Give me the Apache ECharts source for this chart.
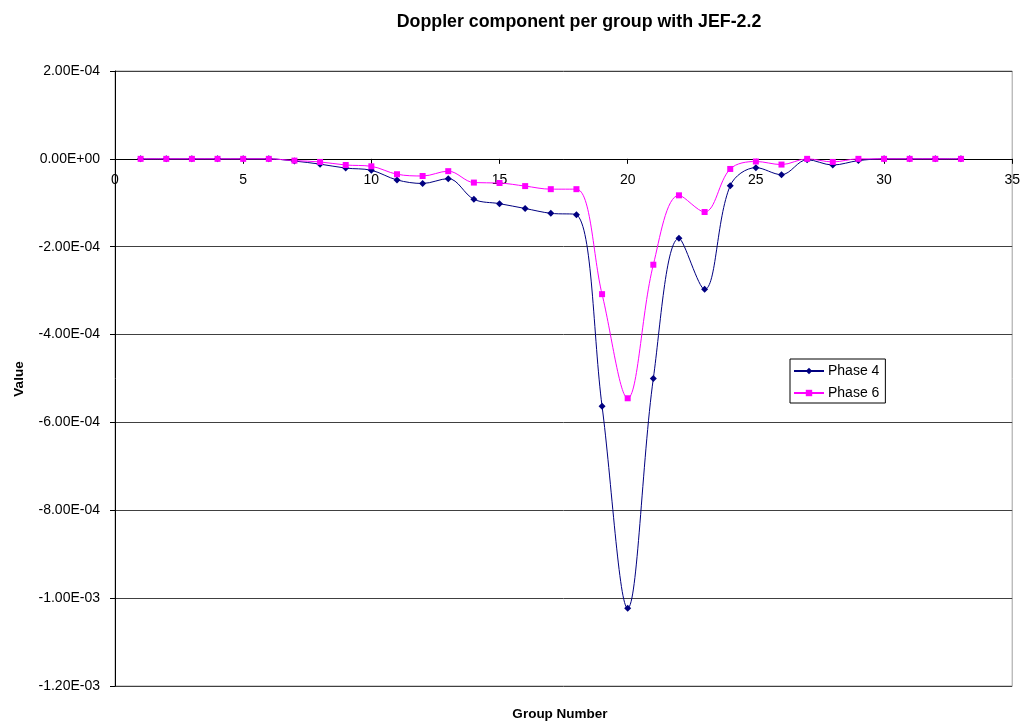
<!DOCTYPE html>
<html>
<head>
<meta charset="utf-8">
<script src="https://cdn.jsdelivr.net/npm/echarts@6/dist/echarts.min.js"></script>
<style>html,body{margin:0;padding:0;background:#fff;}#c{width:1023px;height:722px;}</style>
</head>
<body>
<div id="c"></div>
<script>
var groups = [1,2,3,4,5,6,7,8,9,10,11,12,13,14,15,16,17,18,19,20,21,22,23,24,25,26,27,28,29,30,31,32,33];
var phase4 = [0,0,0,0,0,0,-5e-6,-1.2e-5,-2.1e-5,-2.6e-5,-4.8e-5,-5.6e-5,-4.5e-5,-9.2e-5,-1.02e-4,-1.13e-4,-1.24e-4,-1.27e-4,-5.63e-4,-1.023e-3,-5.0e-4,-1.81e-4,-2.97e-4,-6.1e-5,-2.0e-5,-3.6e-5,-2e-6,-1.4e-5,-4e-6,0,0,0,0];
var phase6 = [0,0,0,0,0,0,-4e-6,-7e-6,-1.4e-5,-1.7e-5,-3.5e-5,-3.9e-5,-2.8e-5,-5.4e-5,-5.5e-5,-6.2e-5,-6.9e-5,-6.9e-5,-3.08e-4,-5.45e-4,-2.41e-4,-8.3e-5,-1.21e-4,-2.3e-5,-6e-6,-1.3e-5,0,-7e-6,0,0,0,0,0];
var seriesNames = ['Phase 4','Phase 6'];
var yMin = -1.2e-3, yMax = 2e-4, yStep = 2e-4;

function sci(v){
  if (Math.abs(v) < 1e-12) return '0.00E+00';
  var s = v.toExponential(2).toUpperCase();
  var m = s.split('E');
  var e = parseInt(m[1],10);
  var sign = e < 0 ? '-' : '+';
  var a = Math.abs(e);
  return m[0] + 'E' + sign + (a < 10 ? '0' + a : '' + a);
}
function pairs(ys){ return groups.map(function(g,i){ return [g, ys[i]]; }); }

var W = 1023, H = 722;
var gridTop = 71, gridBottom = 36;
var plotH = H - gridTop - gridBottom;
// move the x axis (line, ticks, labels) up to y = 0
var zeroOffset = -plotH * (0 - yMin) / (yMax - yMin);

var chart = echarts.init(document.getElementById('c'));
var font = 'Liberation Sans, Arial, sans-serif';
chart.setOption({
  animation: false,
  backgroundColor: '#fff',
  title: {
    text: 'Doppler component per group with JEF-2.2',
    left: 574, top: 8, textAlign: 'center',
    textStyle: {fontFamily: font, fontSize: 17.8, fontWeight: 'bold', color: '#000'}
  },
  grid: {left: 115, right: 10, top: gridTop, bottom: gridBottom, show: true, borderColor: '#a0a0a0', borderWidth: 1, containLabel: false},
  legend: {
    orient: 'vertical', left: 790, top: 359,
    data: seriesNames,
    borderColor: '#000', borderWidth: 1, padding: [4, 6, 2, 3],
    itemWidth: 30, itemHeight: 8, itemGap: 6,
    textStyle: {fontFamily: font, fontSize: 14, color: '#000', lineHeight: 16, padding: [0,0,0,-1]}
  },
  xAxis: {
    type: 'value', min: 0, max: 35, interval: 5,
    offset: zeroOffset,
    axisLine: {onZero: false, lineStyle: {color: '#000', width: 1}},
    axisTick: {show: true, length: 5, lineStyle: {color: '#000'}},
    axisLabel: {fontFamily: font, fontSize: 14, color: '#000', margin: 14},
    splitLine: {show: false}
  },
  yAxis: {
    type: 'value', min: yMin, max: yMax, interval: yStep,
    axisLine: {show: true, onZero: false, lineStyle: {color: '#000', width: 1}},
    axisTick: {show: true, length: 5, lineStyle: {color: '#000'}},
    axisLabel: {fontFamily: font, fontSize: 14, color: '#000', margin: 15, formatter: sci},
    splitLine: {show: true, lineStyle: {color: '#404040', width: 1}}
  },
  graphic: [
    {type: 'text', x: 560, y: 714, style: {text: 'Group Number', font: 'bold 13.5px ' + font, fill: '#000', align: 'center', verticalAlign: 'middle'}},
    {type: 'text', rotation: Math.PI/2, x: 19, y: 379, style: {text: 'Value', font: 'bold 13.5px ' + font, fill: '#000', align: 'center', verticalAlign: 'middle'}}
  ],
  series: [
    {
      name: seriesNames[0], type: 'line', data: pairs(phase4), smooth: 0.35,
      symbol: 'diamond', symbolSize: 7, showAllSymbol: true,
      lineStyle: {color: '#000080', width: 1},
      itemStyle: {color: '#000080'}
    },
    {
      name: seriesNames[1], type: 'line', data: pairs(phase6), smooth: 0.35,
      symbol: 'rect', symbolSize: 6, showAllSymbol: true,
      lineStyle: {color: '#ff00ff', width: 1},
      itemStyle: {color: '#ff00ff'}
    }
  ]
});
</script>
</body>
</html>
